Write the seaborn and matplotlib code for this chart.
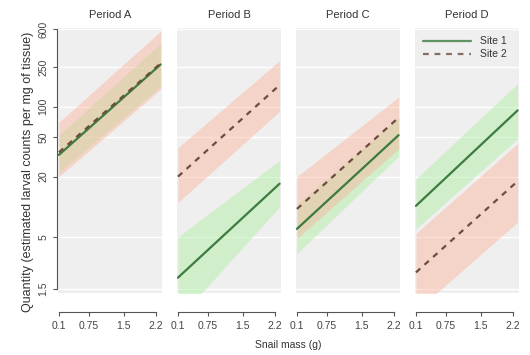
import numpy as np
import pandas as pd
import matplotlib
matplotlib.use("Agg")
import matplotlib.pyplot as plt
import seaborn as sns
from matplotlib.lines import Line2D
from matplotlib.ticker import NullLocator

# ---- data ----
periods = ["Period A", "Period B", "Period C", "Period D"]
sites = ["Site 1", "Site 2"]
mass_ends = [0.1, 2.3]

site1_start = [33, 1.95, 6.0, 10.2]
site1_end = [265, 17, 52, 92]
site1_lo_start = [22, 0.75, 3.4, 6.0]
site1_lo_end = [160, 10, 32, 48]
site1_hi_start = [52, 5.0, 10.5, 19]
site1_hi_end = [430, 29, 78, 170]

site2_start = [35, 20, 9.5, 2.2]
site2_end = [272, 165, 78, 18]
site2_lo_start = [20, 11, 4.8, 0.9]
site2_lo_end = [150, 90, 38, 7]
site2_hi_start = [70, 39, 20, 5.4]
site2_hi_end = [570, 290, 125, 43]

y_ticks = [1.5, 5, 20, 50, 100, 250, 600]
y_tick_labels = ["1.5", "5", "20", "50", "100", "250", "600"]
x_ticks = [0.1, 0.75, 1.5, 2.2]
x_tick_labels = ["0.1", "0.75", "1.5", "2.2"]

rows = []
for i, p in enumerate(periods):
    for s, st, en in [("Site 1", site1_start, site1_end), ("Site 2", site2_start, site2_end)]:
        rows.append(dict(period=p, site=s, mass=mass_ends[0], qty=st[i]))
        rows.append(dict(period=p, site=s, mass=mass_ends[1], qty=en[i]))
df = pd.DataFrame(rows)

bands = {
    "Site 1": (site1_lo_start, site1_lo_end, site1_hi_start, site1_hi_end),
    "Site 2": (site2_lo_start, site2_lo_end, site2_hi_start, site2_hi_end),
}

line_colors = {"Site 1": "#3d7b40", "Site 2": "#6e4c40"}
band_colors = {"Site 1": "#a8ee9c", "Site 2": "#fbb49c"}

sns.set_style("white")
plt.rcParams["font.family"] = ["Liberation Sans", "DejaVu Sans"]

W, H = 530, 355
fig = plt.figure(figsize=(W / 100, H / 100), dpi=100)
lefts = [58, 177, 296, 415]
pw = 104
top, bot = 28, 293

tick_color = "#444444"
for i, p in enumerate(periods):
    ax = fig.add_axes([lefts[i] / W, (H - bot) / H, pw / W, (bot - top) / H])
    ax.set_facecolor("#efefef")
    ax.set_yscale("log")
    ax.set_ylim(1.37, 614)
    ax.set_xlim(0.08, 2.33)

    for s in sites:
        lo_s, lo_e, hi_s, hi_e = bands[s]
        ax.fill_between(mass_ends, [lo_s[i], lo_e[i]], [hi_s[i], hi_e[i]],
                        color=band_colors[s], alpha=0.45, lw=0, zorder=1)

    sub = df[df.period == p]
    sns.lineplot(data=sub, x="mass", y="qty", hue="site", style="site",
                 palette=line_colors, dashes={"Site 1": "", "Site 2": (2.6, 2.6)},
                 errorbar=None, legend=False, lw=1.6, ax=ax, zorder=3)

    ax.set_yticks(y_ticks)
    ax.yaxis.set_minor_locator(NullLocator())
    ax.set_axisbelow(True)
    ax.yaxis.grid(True, color="white", lw=1.0)
    ax.xaxis.grid(False)
    ax.set_xlabel("")
    ax.set_ylabel("")

    for sp in ["top", "right"]:
        ax.spines[sp].set_visible(False)
    ax.spines["bottom"].set_position(("outward", 14))
    ax.spines["bottom"].set_bounds(0.1, 2.2)
    ax.spines["bottom"].set_color("#555555")
    ax.spines["bottom"].set_linewidth(0.8)
    ax.set_xticks(x_ticks)
    ax.set_xticklabels(x_tick_labels)
    ax.tick_params(axis="x", direction="out", length=3, width=0.8, color="#555555",
                   labelsize=7.5, labelcolor=tick_color, pad=3, bottom=True)

    if i == 0:
        ax.spines["left"].set_position(("outward", 1))
        ax.spines["left"].set_bounds(1.5, 600)
        ax.spines["left"].set_color("#555555")
        ax.spines["left"].set_linewidth(0.8)
        ax.set_yticklabels(y_tick_labels, rotation=90, va="center")
        ax.tick_params(axis="y", direction="out", length=3, width=0.8, color="#555555",
                       labelsize=7.5, labelcolor=tick_color, pad=3, left=True)
    else:
        ax.spines["left"].set_visible(False)
        ax.tick_params(axis="y", left=False, labelleft=False)

    ax.set_title(p, fontsize=8, color="#333333", pad=7)

    if i == 3:
        handles = [Line2D([], [], color=line_colors["Site 1"], lw=1.6, alpha=0.8),
                   Line2D([], [], color=line_colors["Site 2"], lw=1.6, ls=(0, (2.6, 2.6)), alpha=0.8)]
        ax.legend(handles, sites, loc="upper left", frameon=False, fontsize=7.5,
                  handlelength=4.6, handletextpad=0.8, labelspacing=0.3,
                  borderaxespad=0.4, labelcolor="#333333")

fig.text(28 / W, 1 - 172 / H, "Quantity (estimated larval counts per mg of tissue)",
         rotation=90, ha="center", va="center", fontsize=9, color="#333333")
fig.text(288 / W, 1 - 345 / H, "Snail mass (g)", ha="center", va="center",
         fontsize=7.5, color="#333333")

fig.savefig("out.png", dpi=100)
